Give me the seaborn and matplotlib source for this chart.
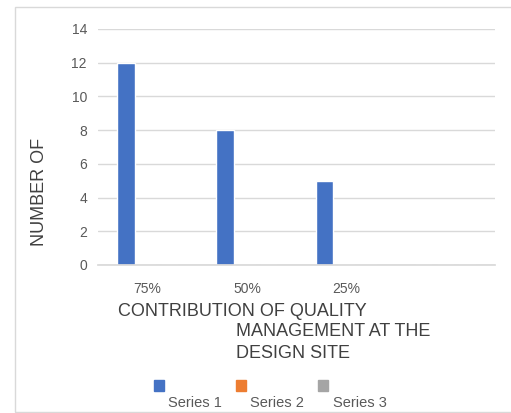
import matplotlib
matplotlib.use("Agg")
import matplotlib.pyplot as plt
import seaborn as sns
import pandas as pd
from matplotlib.patches import Patch, Rectangle

categories = ["75%", "50%", "25%", ""]
series_names = ["Series 1", "Series 2", "Series 3"]
series1 = [12, 8, 5, 0]
series2 = [0, 0, 0, 0]
series3 = [0, 0, 0, 0]
colors = ["#4472C4", "#ED7D31", "#A5A5A5"]

rows = []
for name, vals in zip(series_names, [series1, series2, series3]):
    for c, v in zip(categories, vals):
        rows.append({"cat": c, "series": name, "value": v})
df = pd.DataFrame(rows)

sns.set_theme(style="white")
plt.rcParams['font.family'] = ['Liberation Sans', 'DejaVu Sans']

fig = plt.figure(figsize=(5.11, 4.13), dpi=100)
ax = fig.add_axes([98/511, 1-265/413, (495-98)/511, (265-29)/413])

sns.barplot(data=df, x="cat", y="value", hue="series", order=categories,
            hue_order=series_names, palette=colors, width=0.66, gap=0.2,
            ax=ax, legend=False, saturation=1)

ax.set_ylim(0, 14)
ax.set_yticks(range(0, 15, 2))
ax.yaxis.grid(True, color="#d9d9d9", linewidth=1)
ax.set_axisbelow(True)
for s in ["top", "right", "left"]:
    ax.spines[s].set_visible(False)
ax.spines["bottom"].set_color("#d9d9d9")
ax.tick_params(axis="y", length=0, pad=8, labelsize=10, labelcolor="#595959")
ax.tick_params(axis="x", length=0, pad=12, labelsize=10, labelcolor="#595959")
ax.set_xlabel("")
ax.set_ylabel("NUMBER OF", fontsize=13, color="#404040")
ax.yaxis.set_label_coords(-0.125, 0.31)

fig.text(118/511, 1-312/413, "CONTRIBUTION OF QUALITY", fontsize=13, color="#404040", va="center")
fig.text(236/511, 1-332/413, "MANAGEMENT AT THE", fontsize=13, color="#404040", va="center")
fig.text(236/511, 1-353/413, "DESIGN SITE", fontsize=13, color="#404040", va="center")

handles = [Patch(facecolor=c, edgecolor=c) for c in colors]
fig.legend(handles=handles, labels=["", "", ""], ncol=3, loc="center",
           bbox_to_anchor=(241/511, 1-387/413), frameon=False,
           handlelength=0.7, handleheight=0.7, columnspacing=4.66, handletextpad=0)
for name, x in zip(series_names, [195, 277, 360]):
    fig.text(x/511, 1-403/413, name, fontsize=10.5, color="#595959", ha="center", va="center")

fig.patches.append(Rectangle((15/511, 1/413), 1.0, (405)/413, transform=fig.transFigure,
                             fill=False, edgecolor="#d9d9d9", linewidth=1))

fig.savefig("out.png", dpi=100)
